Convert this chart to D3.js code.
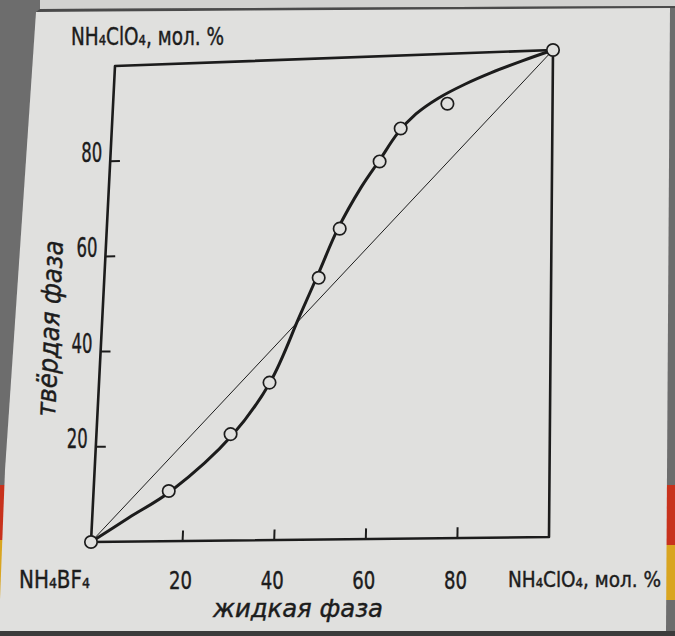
<!DOCTYPE html>
<html>
<head>
<meta charset="utf-8">
<script src="https://cdn.jsdelivr.net/npm/d3@7/dist/d3.min.js"></script>
<style>
  html, body { margin: 0; padding: 0; background: #6d6d6d; }
  svg { display: block; }
  text { font-family: "Liberation Sans Narrow", "DejaVu Sans Condensed", "Arial Narrow", sans-serif; fill: #1c1c1c; stroke: #1c1c1c; stroke-width: 0.4; }
</style>
</head>
<body>
<svg id="chart" width="675" height="636"></svg>
<script>
// measured points: liquid phase vs solid phase, NH4ClO4 mol.%
const liquid = [0, 16.5, 29.6, 37.8, 48, 52.4, 61, 65.6, 76.1, 100];
const solid  = [0, 10.5, 22.2, 32.8, 54.4, 64.5, 78.2, 84.9, 89.7, 100];

// hand-drawn fitted curve
const curveLiquid = [0, 8, 17, 30, 38, 44, 48, 52, 57, 61, 65, 69, 74, 80, 86, 93, 100];
const curveSolid  = [0, 5, 10.5, 22, 33, 46.5, 55.5, 64.5, 73, 78.5, 84, 87.8, 90.9, 93.6, 95.8, 98, 100];

const xTicks = [20, 40, 60, 80];
const yTicks = [20, 40, 60, 80];

const ink = "#1c1c1c";
const paper = "#e0e0de";

const svg = d3.select("#chart");

// photo background: paper sheet and the edges around it
svg.append("rect").attr("width", 675).attr("height", 636).attr("fill", "#6d6d6d");
svg.append("polygon").attr("points", "40,0 675,0 675,6 40,9").attr("fill", "#d2d2d0");
svg.append("polygon").attr("points", "40,9 675,6 675,8 36,12").attr("fill", "#4a4a4a");
svg.append("rect").attr("x", 0).attr("y", 485).attr("width", 8).attr("height", 55).attr("fill", "#c8321c");
svg.append("rect").attr("x", 0).attr("y", 540).attr("width", 8).attr("height", 60).attr("fill", "#d9a520");
svg.append("rect").attr("x", 664).attr("y", 485).attr("width", 11).attr("height", 60).attr("fill", "#c8321c");
svg.append("rect").attr("x", 664).attr("y", 545).attr("width", 11).attr("height", 55).attr("fill", "#d9a520");
svg.append("polygon").attr("points", "36,12 670,8 666,631 0,633 0,600 5,470")
    .attr("fill", paper);
svg.append("rect").attr("x", 0).attr("y", 631).attr("width", 675).attr("height", 5).attr("fill", "#3c3c3c");

// scales to unit square, then bilinear map onto the (slightly skewed) drawn frame
const x = d3.scaleLinear().domain([0, 100]).range([0, 1]);
const y = d3.scaleLinear().domain([0, 100]).range([0, 1]);
const c00 = [91, 542], c10 = [549, 537], c01 = [115, 66], c11 = [553, 50];

function pt(a, b) {
    const u = x(a), v = y(b);
    return [0, 1].map(k => (1 - u) * (1 - v) * c00[k] + u * (1 - v) * c10[k] + (1 - u) * v * c01[k] + u * v * c11[k]);
}

const g = svg.append("g");

// frame
const frame = [[0, 0], [100, 0], [100, 100], [0, 100]].map(d => pt(d[0], d[1]));
g.append("path")
    .attr("d", "M" + frame.join("L") + "Z")
    .attr("fill", "none").attr("stroke", ink).attr("stroke-width", 2.6)
    .attr("stroke-linejoin", "round");

// ticks (inward)
g.selectAll(".xtick").data(xTicks).join("line")
    .attr("x1", d => pt(d, 0)[0]).attr("y1", d => pt(d, 0)[1])
    .attr("x2", d => pt(d, 2.2)[0]).attr("y2", d => pt(d, 2.2)[1])
    .attr("stroke", ink).attr("stroke-width", 2);
g.selectAll(".ytick").data(yTicks).join("line")
    .attr("x1", d => pt(0, d)[0]).attr("y1", d => pt(0, d)[1])
    .attr("x2", d => pt(2.2, d)[0]).attr("y2", d => pt(2.2, d)[1])
    .attr("stroke", ink).attr("stroke-width", 2);

// tick labels
g.selectAll(".xlab").data(xTicks).join("text")
    .attr("x", d => pt(d, 0)[0] - 2).attr("y", 589)
    .attr("text-anchor", "middle").attr("font-size", 24)
    .attr("textLength", 23).attr("lengthAdjust", "spacingAndGlyphs")
    .text(d => d);
g.selectAll(".ylab").data(yTicks).join("text")
    .attr("x", d => pt(0, d)[0] - 8).attr("y", d => pt(0, d)[1] + 1)
    .attr("text-anchor", "end").attr("font-size", 27)
    .attr("textLength", 21).attr("lengthAdjust", "spacingAndGlyphs")
    .text(d => d);

// diagonal
const line = d3.line().x(d => pt(d[0], d[1])[0]).y(d => pt(d[0], d[1])[1]);
g.append("path")
    .attr("d", line([[0, 0], [100, 100]]))
    .attr("fill", "none").attr("stroke", ink).attr("stroke-width", 1);

// fitted curve
const curvePts = curveLiquid.map((v, i) => [v, curveSolid[i]]);
g.append("path")
    .attr("d", line.curve(d3.curveCatmullRom.alpha(0.5))(curvePts))
    .attr("fill", "none").attr("stroke", ink).attr("stroke-width", 3)
    .attr("stroke-linecap", "round");

// measured points
g.selectAll(".pt").data(liquid.map((v, i) => [v, solid[i]])).join("circle")
    .attr("cx", d => pt(d[0], d[1])[0]).attr("cy", d => pt(d[0], d[1])[1])
    .attr("r", 6.2).attr("fill", paper).attr("stroke", ink).attr("stroke-width", 1.7);

// labels
svg.append("text").attr("x", 71).attr("y", 45).attr("font-size", 24)
    .attr("textLength", 153).attr("lengthAdjust", "spacingAndGlyphs")
    .text("NH₄ClO₄, мол. %");

svg.append("text").attr("x", 19).attr("y", 588).attr("font-size", 25)
    .attr("textLength", 71).attr("lengthAdjust", "spacingAndGlyphs")
    .text("NH₄BF₄");

svg.append("text").attr("x", 508).attr("y", 587).attr("font-size", 22)
    .attr("textLength", 153).attr("lengthAdjust", "spacingAndGlyphs")
    .text("NH₄ClO₄, мол. %");

svg.append("text").attr("x", 213).attr("y", 617).attr("font-size", 24)
    .attr("font-style", "italic")
    .attr("textLength", 170).attr("lengthAdjust", "spacingAndGlyphs")
    .text("жидкая фаза");

svg.append("text")
    .attr("transform", "translate(59,329) rotate(-87.4)")
    .attr("text-anchor", "middle").attr("font-size", 27).attr("font-style", "italic")
    .text("твёрдая фаза");
</script>
</body>
</html>
